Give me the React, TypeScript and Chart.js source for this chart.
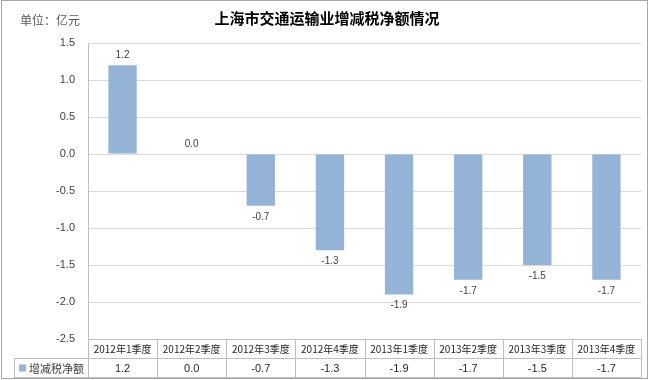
import { useEffect, useRef } from "react";
import { Chart, registerables } from "chart.js";

Chart.register(...registerables);

const chartTitle = "上海市交通运输业增减税净额情况";
const unitLabel = "单位：亿元";
const categories = [
  "2012年1季度",
  "2012年2季度",
  "2012年3季度",
  "2012年4季度",
  "2013年1季度",
  "2013年2季度",
  "2013年3季度",
  "2013年4季度",
];
const seriesName = "增减税净额";
const values = [1.2, 0.0, -0.7, -1.3, -1.9, -1.7, -1.5, -1.7];
const yMin = -2.5;
const yMax = 1.5;
const yStep = 0.5;

const CJK = '"Noto Sans CJK SC", sans-serif';
const NUM = '"Liberation Sans", Arial, sans-serif';
const BAR = "#95b3d7";
const LINE = "#bfbfbf";

const drawPlugin = {
  id: "excelLook",
  afterDraw(chart: any) {
    const ctx = chart.ctx as CanvasRenderingContext2D;
    const area = chart.chartArea;
    const xs = chart.scales.x;
    ctx.save();

    // outer frame
    ctx.strokeStyle = "#a6a6a6";
    ctx.lineWidth = 1;
    ctx.strokeRect(1.5, 0.5, 646, 378);

    // title & unit
    ctx.fillStyle = "#000";
    ctx.font = "bold 15px " + CJK;
    ctx.textAlign = "center";
    ctx.textBaseline = "middle";
    ctx.fillText(chartTitle, 327, 18);
    ctx.fillStyle = "#595959";
    ctx.font = "12px " + CJK;
    ctx.textAlign = "left";
    ctx.fillText(unitLabel, 20, 20);

    // data labels
    const meta = chart.getDatasetMeta(0);
    ctx.fillStyle = "#404040";
    ctx.font = "10px " + NUM;
    ctx.textAlign = "center";
    meta.data.forEach((bar: any, i: number) => {
      const v = values[i];
      const txt = v.toFixed(1);
      if (v >= 0) {
        ctx.textBaseline = "bottom";
        ctx.fillText(txt, bar.x, bar.y - 5);
      } else {
        ctx.textBaseline = "top";
        ctx.fillText(txt, bar.x, bar.y + 6);
      }
    });

    // data table
    const n = categories.length;
    const colW = (area.right - area.left) / n;
    const r0 = area.bottom;
    const r1 = r0 + 19;
    const r2 = r1 + 19;
    const tableLeft = 14;
    ctx.strokeStyle = LINE;
    ctx.lineWidth = 1;
    ctx.beginPath();
    ctx.moveTo(area.left, Math.round(r0) + 0.5);
    ctx.lineTo(area.right, Math.round(r0) + 0.5);
    ctx.moveTo(tableLeft, Math.round(r1) + 0.5);
    ctx.lineTo(area.right, Math.round(r1) + 0.5);
    ctx.moveTo(tableLeft, Math.round(r2) + 0.5);
    ctx.lineTo(area.right, Math.round(r2) + 0.5);
    ctx.moveTo(Math.round(area.left) + 0.5, area.top);
    ctx.lineTo(Math.round(area.left) + 0.5, r2);
    ctx.moveTo(tableLeft + 0.5, r1);
    ctx.lineTo(tableLeft + 0.5, r2);
    for (let i = 1; i <= n; i++) {
      const x = Math.round(area.left + colW * i) + 0.5;
      ctx.moveTo(x, r0);
      ctx.lineTo(x, r2);
    }
    ctx.stroke();

    ctx.textAlign = "center";
    ctx.textBaseline = "middle";
    for (let i = 0; i < n; i++) {
      const cx = xs.getPixelForValue(i);
      ctx.fillStyle = "#262626";
      ctx.font = "10px " + CJK;
      ctx.fillText(categories[i], cx, (r0 + r1) / 2 + 1);
      ctx.font = "11px " + NUM;
      ctx.fillText(values[i].toFixed(1), cx, (r1 + r2) / 2 + 1);
    }
    ctx.fillStyle = BAR;
    ctx.fillRect(19, (r1 + r2) / 2 - 3, 7, 7);
    ctx.fillStyle = "#404040";
    ctx.font = "11px " + CJK;
    ctx.textAlign = "left";
    ctx.fillText(seriesName, 29, (r1 + r2) / 2 + 1);

    ctx.restore();
  },
};

export default function App() {
  const ref = useRef<HTMLCanvasElement | null>(null);
  useEffect(() => {
    if (!ref.current) return;
    const chart = new Chart(ref.current, {
      type: "bar",
      data: {
        labels: categories,
        datasets: [
          {
            label: seriesName,
            data: values,
            backgroundColor: BAR,
            borderWidth: 0,
            barPercentage: 0.41,
            categoryPercentage: 1,
          },
        ],
      },
      options: {
        animation: false,
        responsive: false,
        maintainAspectRatio: false,
        layout: { padding: { top: 43, bottom: 41, left: 0, right: 9 } },
        plugins: {
          legend: { display: false },
          title: { display: false },
          tooltip: { enabled: false },
        },
        scales: {
          x: { display: false },
          y: {
            min: yMin,
            max: yMax,
            afterFit: (s: any) => {
              s.width = 88;
            },
            ticks: {
              stepSize: yStep,
              padding: 13,
              color: "#404040",
              font: { family: NUM, size: 11 },
              callback: (v: any) => Number(v).toFixed(1),
            },
            grid: { color: "#d9d9d9", drawTicks: false },
            border: { display: true, color: LINE },
          },
        },
      },
      plugins: [drawPlugin],
    });
    return () => chart.destroy();
  }, []);
  return (
    <div style={{ position: "fixed", left: 0, top: 0, width: 650, height: 380, background: "#fff" }}>
      <canvas ref={ref} width={650} height={380} style={{ width: 650, height: 380, display: "block" }} />
    </div>
  );
}
